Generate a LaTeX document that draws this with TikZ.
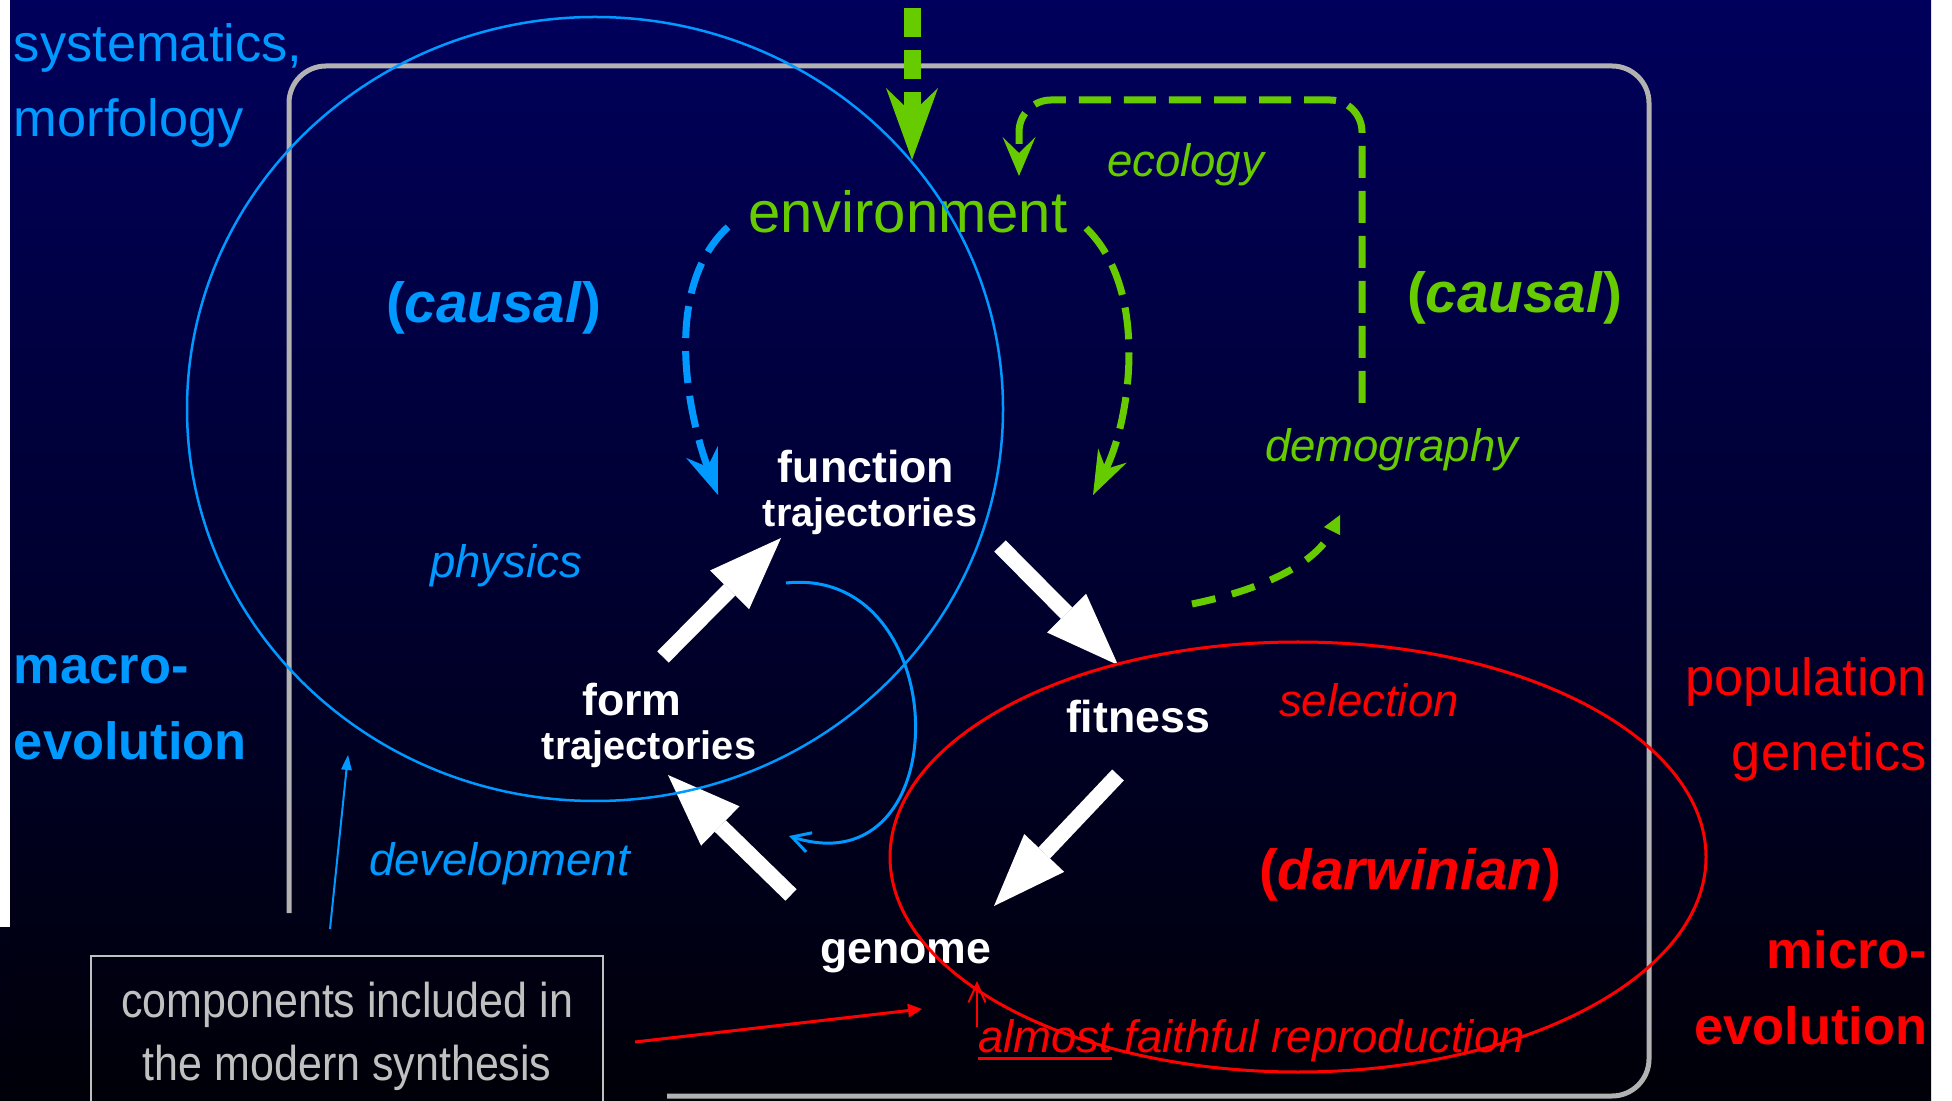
\documentclass[tikz,border=0pt]{standalone}
\usepackage{fontspec}
\setmainfont{Liberation Sans}
\newfontfamily\narrowsans[FakeStretch=0.88]{Liberation Sans}
\usetikzlibrary{arrows.meta}

\definecolor{navytop}{RGB}{0,0,92}
\definecolor{navylow}{RGB}{0,0,23}
\definecolor{navybot}{RGB}{0,0,8}
\definecolor{skyblue}{RGB}{0,153,255}
\definecolor{leafgreen}{RGB}{102,204,0}
\definecolor{framegray}{RGB}{178,178,178}
\definecolor{textgray}{RGB}{192,192,192}

\tikzstyle{lbl}=[inner sep=0pt,outer sep=0pt]
\tikzstyle{fieldtxt}=[lbl,font=\fontsize{14.9}{18}\selectfont]
\tikzstyle{fieldbold}=[lbl,font=\fontsize{14.9}{18}\selectfont\bfseries]
\tikzstyle{modetxt}=[lbl,font=\fontsize{16.1}{19}\selectfont\bfseries]
\tikzstyle{envtxt}=[lbl,leafgreen,font=\fontsize{16.5}{19}\selectfont]
\tikzstyle{processtxt}=[lbl,font=\fontsize{12.95}{15}\selectfont\itshape]
\tikzstyle{stagetxt}=[lbl,white,font=\fontsize{12.7}{15}\selectfont\bfseries]
\tikzstyle{trajtxt}=[lbl,white,font=\fontsize{11.3}{13}\selectfont\bfseries]
\tikzstyle{compbox}=[lbl,draw=textgray,text=textgray,line width=0.02cm,minimum width=5.12cm,minimum height=1.6cm,align=center,font=\narrowsans\fontsize{13.9}{17.9}\selectfont]
\tikzstyle{frame}=[draw=framegray,line width=0.05cm,rounded corners=0.37cm]
\tikzstyle{bigarrow}=[draw=white,line width=0.16cm,-{Triangle[length=0.73cm,width=0.55cm,line width=0pt]}]
\tikzstyle{influence}=[line width=0.07cm,dash pattern=on 0.32cm off 0.13cm]

\newcommand{\ulword}[1]{\setbox0\hbox{#1}\rlap{\rule[-2.4pt]{\wd0}{0.85pt}}\box0\relax}

\begin{document}
\begin{tikzpicture}[x=0.01cm,y=-0.01cm]
    \useasboundingbox (0,0) rectangle (1952,1101);
    % fond
    \fill[white] (0,0) rectangle (1952,1101);
    \shade[top color=navytop,bottom color=navybot] (10,0) rectangle (1931,1101);
    \shade[top color=navylow,bottom color=navybot] (0,927) rectangle (10,1101);
    \draw[frame] (289,913) |- (1649,66) |- (667,1096);

    % domaines
    \node[fieldtxt,skyblue,anchor=base west] (syst) at (14,62) {systematics,};
    \node[fieldtxt,skyblue,anchor=base west] (morf) at (14,137) {morfology};
    \node[fieldbold,skyblue,anchor=base west] (macro) at (14,684) {macro-};
    \node[fieldbold,skyblue,anchor=base west] (macroevo) at (14,760) {evolution};
    \node[fieldtxt,red,anchor=base east] (popul) at (1927,696) {population};
    \node[fieldtxt,red,anchor=base east] (genet) at (1927,771) {genetics};
    \node[fieldbold,red,anchor=base east] (micro) at (1927,968) {micro-};
    \node[fieldbold,red,anchor=base east] (microevo) at (1927,1044) {evolution};

    \node[modetxt,skyblue,anchor=base west] (bluecausal) at (386,323) {(\textit{causal})};
    \node[modetxt,leafgreen,anchor=base west] (greencausal) at (1407,313) {(\textit{causal})};
    \node[modetxt,red,anchor=base west] (darwin) at (1259,889) {(\textit{darwinian})};

    % processus
    \node[envtxt,anchor=base west] (env) at (748,233) {environment};
    \node[processtxt,leafgreen,anchor=base west] (eco) at (1107,177) {ecology};
    \node[processtxt,leafgreen,anchor=base west] (demo) at (1265,462) {demography};
    \node[processtxt,skyblue,anchor=base west] (phys) at (430,578) {physics};
    \node[processtxt,skyblue,anchor=base west] (devel) at (369,875) {development};
    \node[processtxt,red,anchor=base west] (select) at (1279,717) {selection};
    \node[processtxt,red,anchor=base west] (repro) at (978,1052) {\ulword{almost} faithful reproduction};

    % etapes
    \node[stagetxt,anchor=base] (func) at (866,483) {function};
    \node[trajtxt,anchor=base] (functraj) at (870,527) {trajectories};
    \node[stagetxt,anchor=base] (form) at (632,716) {form};
    \node[trajtxt,anchor=base] (formtraj) at (649,760) {trajectories};
    \node[stagetxt,anchor=base west] (fit) at (1066,733) {fitness};
    \node[stagetxt,anchor=base west] (gen) at (820,963) {genome};

    \node[compbox,anchor=north west] (comp) at (91,956) {components included in\\the modern synthesis};

    % cycle
    \coordinate (formout) at (663,657);
    \coordinate (funcin) at (781,538);
    \coordinate (funcout) at (1000,546);
    \coordinate (fitin) at (1118,665);
    \coordinate (fitout) at (1118,775);
    \coordinate (genin) at (994,906);
    \coordinate (genout) at (791,895);
    \coordinate (formin) at (668,775);
    \foreach \from/\to in {formout/funcin, funcout/fitin, fitout/genin, genout/formin}
        \draw[bigarrow] (\from) -- (\to);

    % influences
    \coordinate (sky) at (912,8);
    \coordinate (envin) at (912,160);
    \draw[leafgreen,line width=0.17cm,dash pattern=on 0.29cm off 0.13cm,-{Stealth[length=0.72cm,width=0.52cm,inset=0.25cm,line width=0pt]}] (sky) -- (envin);

    \coordinate (demotop) at (1362,403);
    \coordinate (ecotop) at (1019,100);
    \coordinate (ecoin) at (1019,176);
    \draw[influence,leafgreen,rounded corners=0.32cm,-{Stealth[length=0.39cm,width=0.33cm,inset=0.16cm,line width=0pt]}] (demotop) |- (ecotop) -- (ecoin);

    \coordinate (envleft) at (728,227);
    \coordinate (funcleft) at (718,495);
    \draw[influence,skyblue,-{Stealth[length=0.46cm,width=0.34cm,inset=0.16cm,line width=0pt]}] (envleft) .. controls (660,290) and (690,420) .. (funcleft);

    \coordinate (envright) at (1086,228);
    \coordinate (funcright) at (1093,495);
    \draw[influence,leafgreen,-{Stealth[length=0.44cm,width=0.32cm,inset=0.15cm,line width=0pt]}] (envright) .. controls (1150,290) and (1130,420) .. (funcright);

    \coordinate (fitright) at (1192,604);
    \coordinate (demoin) at (1340,515);
    \draw[leafgreen,line width=0.07cm,dash pattern=on 0.24cm off 0.17cm,-{Triangle[length=0.18cm,width=0.18cm,line width=0pt]}] (fitright) .. controls (1260,590) and (1315,565) .. (demoin);

    \coordinate (loopstart) at (786,583);
    \coordinate (loopend) at (789,836);
    \draw[skyblue,line width=0.03cm,-{Straight Barb[length=0.18cm,width=0.2cm]}] (loopstart) .. controls (955,565) and (960,890) .. (loopend);

    \coordinate (devfoot) at (330,929);
    \coordinate (devtip) at (348,755);
    \draw[skyblue,line width=0.02cm,-{Triangle[length=0.15cm,width=0.11cm,line width=0pt]}] (devfoot) -- (devtip);

    \coordinate (compright) at (635,1042);
    \coordinate (reprotip) at (922,1009);
    \draw[red,line width=0.03cm,-{Triangle[length=0.14cm,width=0.14cm,line width=0pt]}] (compright) -- (reprotip);

    \coordinate (repfoot) at (977,1027);
    \coordinate (reptip) at (977,981);
    \draw[red,line width=0.02cm,-{Straight Barb[length=0.19cm,width=0.17cm]}] (repfoot) -- (reptip);

    % cercles
    \draw[skyblue,line width=0.025cm] (595,409) ellipse [x radius=408, y radius=392];
    \draw[red,line width=0.03cm] (1298,857) ellipse [x radius=408, y radius=215];
\end{tikzpicture}
\end{document}
